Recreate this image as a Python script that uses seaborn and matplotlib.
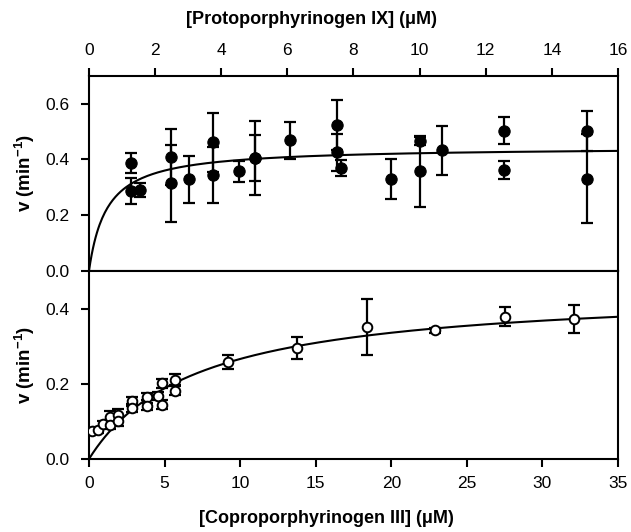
import numpy as np
import pandas as pd
import matplotlib
matplotlib.use("Agg")
import matplotlib.pyplot as plt
import seaborn as sns

# ---- Data: Protoporphyrinogen IX panel (top) ----
proto_x = [1.26, 1.26, 1.53, 2.48, 2.48, 3.03, 3.75, 3.75, 4.55, 5.01, 5.01, 6.09,
           7.5, 7.5, 7.63, 9.14, 10.0, 10.0, 10.67, 12.54, 12.54, 15.05, 15.05]
proto_v = [0.387, 0.287, 0.291, 0.41, 0.315, 0.329, 0.462, 0.345, 0.357, 0.405, 0.405, 0.468,
           0.524, 0.425, 0.369, 0.329, 0.467, 0.358, 0.432, 0.503, 0.363, 0.503, 0.331]
proto_err = [0.035, 0.047, 0.024, 0.10, 0.138, 0.084, 0.106, 0.10, 0.038, 0.131, 0.081, 0.066,
             0.09, 0.067, 0.03, 0.072, 0.015, 0.127, 0.087, 0.049, 0.032, 0.072, 0.16]
proto_vmax, proto_km = 0.445, 0.54

# ---- Data: Coproporphyrinogen III panel (bottom) ----
copro_x = [0.22, 0.6, 0.95, 1.39, 1.39, 1.94, 1.94, 2.82, 2.82, 3.81, 3.81, 4.58, 4.8, 4.8,
           5.68, 5.68, 9.2, 13.76, 18.38, 22.92, 27.52, 32.1]
copro_v = [0.075, 0.078, 0.092, 0.113, 0.091, 0.117, 0.1, 0.153, 0.135, 0.166, 0.14, 0.168,
           0.202, 0.144, 0.211, 0.182, 0.258, 0.295, 0.351, 0.342, 0.378, 0.373]
copro_err = [0.008, 0.008, 0.01, 0.015, 0.012, 0.015, 0.012, 0.012, 0.01, 0.01, 0.01, 0.01,
             0.012, 0.012, 0.015, 0.012, 0.019, 0.029, 0.075, 0.007, 0.025, 0.037]
copro_vmax, copro_km = 0.455, 7.1

proto_xticks = [0, 2, 4, 6, 8, 10, 12, 14, 16]
proto_yticks = [0.0, 0.2, 0.4, 0.6]
copro_xticks = [0, 5, 10, 15, 20, 25, 30, 35]
copro_yticks = [0.0, 0.2, 0.4]

sns.set_style("ticks")
plt.rcParams["font.family"] = ["Liberation Sans", "DejaVu Sans"]
plt.rcParams["mathtext.fontset"] = "custom"
plt.rcParams["mathtext.bf"] = "Liberation Sans:bold"
plt.rcParams["mathtext.rm"] = "Liberation Sans"
plt.rcParams["mathtext.default"] = "bf"
for key in ("text.color", "axes.labelcolor", "xtick.color", "ytick.color", "axes.edgecolor"):
    plt.rcParams[key] = "black"

fig = plt.figure(figsize=(6.31, 5.32), dpi=100)
ax_top = fig.add_axes([0.1410, 0.4906, 0.8384, 0.3671])
ax_bot = fig.add_axes([0.1410, 0.1372, 0.8384, 0.3534])

df_top = pd.DataFrame({"x": proto_x, "v": proto_v})
df_bot = pd.DataFrame({"x": copro_x, "v": copro_v})

xt = np.linspace(0, 16, 400)
fit_top = pd.DataFrame({"x": xt, "v": proto_vmax * xt / (proto_km + xt)})
xb = np.linspace(0, 35, 400)
fit_bot = pd.DataFrame({"x": xb, "v": copro_vmax * xb / (copro_km + xb)})

# Top panel
sns.lineplot(data=fit_top, x="x", y="v", ax=ax_top, color="black", lw=1.5, zorder=2)
ax_top.errorbar(proto_x, proto_v, yerr=proto_err, fmt="none", ecolor="black",
                elinewidth=1.6, capsize=4.2, capthick=1.6, zorder=3)
sns.scatterplot(data=df_top, x="x", y="v", ax=ax_top, color="black", edgecolor="black",
                s=66, linewidth=0.8, zorder=4)

# Bottom panel
sns.lineplot(data=fit_bot, x="x", y="v", ax=ax_bot, color="black", lw=1.5, zorder=2)
ax_bot.errorbar(copro_x, copro_v, yerr=copro_err, fmt="none", ecolor="black",
                elinewidth=1.6, capsize=4.2, capthick=1.6, zorder=3)
sns.scatterplot(data=df_bot, x="x", y="v", ax=ax_bot, color="white", edgecolor="black",
                s=48, linewidth=1.4, zorder=4)

for ax in (ax_top, ax_bot):
    for sp in ax.spines.values():
        sp.set_visible(True)
        sp.set_linewidth(1.5)
        sp.set_color("black")
    ax.set_facecolor("white")

ax_top.set_xlim(0, 16)
ax_top.set_ylim(0, 0.7)
ax_top.set_xticks(proto_xticks)
ax_top.set_xticklabels([str(t) for t in proto_xticks])
ax_top.set_yticks(proto_yticks)
ax_top.set_yticklabels([f"{t:.1f}" for t in proto_yticks])
ax_top.xaxis.tick_top()
ax_top.xaxis.set_label_position("top")
ax_top.tick_params(axis="x", top=True, bottom=False, labeltop=True, labelbottom=False,
                   direction="out", length=6, width=1.5, pad=7, labelsize=12.5)
ax_top.tick_params(axis="y", left=True, right=False, direction="out", length=6, width=1.5,
                   pad=8, labelsize=12.5)

ax_bot.set_xlim(0, 35)
ax_bot.set_ylim(0, 0.5)
ax_bot.set_xticks(copro_xticks)
ax_bot.set_xticklabels([str(t) for t in copro_xticks])
ax_bot.set_yticks(copro_yticks)
ax_bot.set_yticklabels([f"{t:.1f}" for t in copro_yticks])
ax_bot.tick_params(axis="x", top=False, bottom=True, direction="out", length=6, width=1.5,
                   pad=6, labelsize=12.5)
ax_bot.tick_params(axis="y", left=True, right=False, direction="out", length=6, width=1.5,
                   pad=8, labelsize=12.5)

ax_top.set_xlabel("[Protoporphyrinogen IX] (\u03bcM)", fontsize=13, fontweight="bold")
ax_top.xaxis.set_label_coords(0.42, 1.29)
ax_top.xaxis.label.set_verticalalignment("center")
ax_bot.set_xlabel("[Coproporphyrinogen III] (\u03bcM)", fontsize=13, fontweight="bold")
ax_bot.xaxis.set_label_coords(0.448, -0.314)
ax_bot.xaxis.label.set_verticalalignment("center")

ax_top.set_ylabel("v (min$^{-1}$)", fontsize=13.5, fontweight="bold")
ax_top.yaxis.set_label_coords(-0.121, 0.5)
ax_top.yaxis.label.set_verticalalignment("center")
ax_bot.set_ylabel("v (min$^{-1}$)", fontsize=13.5, fontweight="bold")
ax_bot.yaxis.set_label_coords(-0.121, 0.5)
ax_bot.yaxis.label.set_verticalalignment("center")

fig.savefig("out.png", dpi=100, facecolor="white")
